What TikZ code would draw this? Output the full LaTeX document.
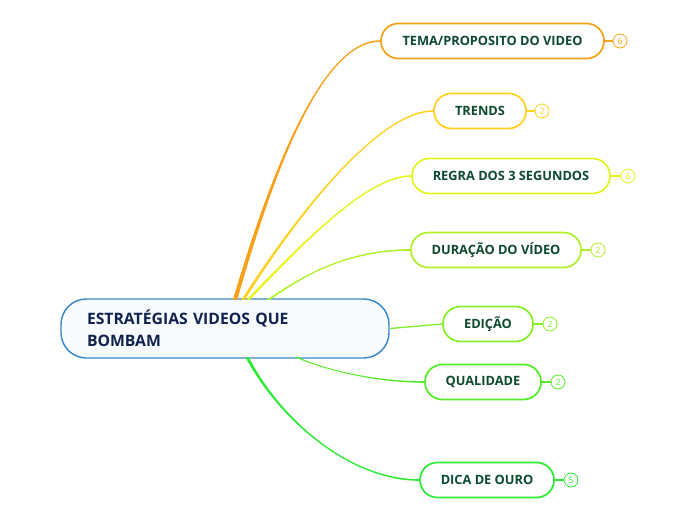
\documentclass[tikz,border=0pt]{standalone}
\usepackage{fontspec}
\setmainfont{Open Sans}
\usetikzlibrary{calc}
\definecolor{cA}{HTML}{F7A11A}
\definecolor{cB}{HTML}{FFD21F}
\definecolor{cC}{HTML}{E4F41C}
\definecolor{cD}{HTML}{B0F02A}
\definecolor{cE}{HTML}{85EE2A}
\definecolor{cF}{HTML}{55EB28}
\definecolor{cG}{HTML}{30EA38}
\definecolor{txtG}{HTML}{0D4A30}
\definecolor{txtB}{HTML}{10234F}
\definecolor{bordB}{HTML}{3A88C8}
\definecolor{fillB}{HTML}{F8FBFE}
% #1 colour, #2 start, #3 ctrl1, #4 ctrl2, #5 end, #6 start half-width, #7 signed end half-width
\newcommand\conn[7]{%
  \fill[#1] ($#2+(-#6,0)$) .. controls ($#3+(-#6*0.7,0)$) and ($#4+(0,-#7)$) .. ($#5+(0,-#7)$)
    -- ($#5+(0,#7)$) .. controls ($#4+(0,#7)$) and ($#3+(#6*0.7,0)$) .. ($#2+(#6,0)$) -- cycle;}
\begin{document}
\begin{tikzpicture}[x=0.75pt,y=-0.75pt,
  child/.style={draw=#1,line width=1.3pt,fill=white,rounded corners=13pt,
    minimum height=26.25pt,inner sep=0pt,text=txtG,font=\fontsize{9.6}{11}\selectfont\bfseries},
  cnt/.style={draw=#1,line width=0.6pt,circle,minimum size=10.5pt,inner sep=0pt,
    text=#1,font=\fontsize{6.5}{7}\selectfont,fill=white},
  stub/.style={draw=#1,line width=0.8pt}]
\useasboundingbox (0,0) rectangle (696,520);
% central node
\node[draw=bordB,line width=1.1pt,fill=fillB,rounded corners=19pt,
  minimum width=246pt,minimum height=44.25pt,inner xsep=19.5pt,text width=207pt,
  align=left,text=txtB,font=\fontsize{11.8}{16.5}\selectfont\bfseries] (c) at (225,328.5)
  {ESTRATÉGIAS VIDEOS QUE\\BOMBAM};
% children
\node[child=cA,minimum width=167.25pt] (t1) at (492.5,41) {TEMA/PROPOSITO DO VIDEO};
\node[child=cB,minimum width=69pt] (t2) at (480,111) {TRENDS};
\node[child=cC,minimum width=148.5pt] (t3) at (511,176) {REGRA DOS 3 SEGUNDOS};
\node[child=cD,minimum width=127.5pt] (t4) at (496,250) {DURAÇÃO DO VÍDEO};
\node[child=cE,minimum width=67.5pt] (t5) at (488,324) {EDIÇÃO};
\node[child=cF,minimum width=87pt] (t6) at (483,382) {QUALIDADE};
\node[child=cG,minimum width=100.5pt] (t7) at (487,480) {DICA DE OURO};
% counters
\node[cnt=cA] (n1) at (620,41) {6};
\node[cnt=cB] (n2) at (542,111) {2};
\node[cnt=cC] (n3) at (628,176) {6};
\node[cnt=cD] (n4) at (598,250) {2};
\node[cnt=cE] (n5) at (550,324) {2};
\node[cnt=cF] (n6) at (558,382) {2};
\node[cnt=cG] (n7) at (571,480) {5};
\draw[stub=cA] (t1.east) -- (n1.west);
\draw[stub=cB] (t2.east) -- (n2.west);
\draw[stub=cC] (t3.east) -- (n3.west);
\draw[stub=cD] (t4.east) -- (n4.west);
\draw[stub=cE] (t5.east) -- (n5.west);
\draw[stub=cF] (t6.east) -- (n6.west);
\draw[stub=cG] (t7.east) -- (n7.west);
% connector anchors
\coordinate (s1) at (235,300);
\coordinate (s2) at (243,300);
\coordinate (s3) at (248,300);
\coordinate (s4) at (268,300);
\coordinate (s6) at (296,357);
\coordinate (s7) at (247,357);
\coordinate (a1) at (270,180); \coordinate (b1) at (320,41);
\coordinate (a2) at (300,210); \coordinate (b2) at (380,111);
\coordinate (a3) at (310,235); \coordinate (b3) at (370,176);
\coordinate (a4) at (295,282); \coordinate (b4) at (340,250);
\coordinate (a6) at (330,372); \coordinate (b6) at (380,382);
\coordinate (a7) at (280,420); \coordinate (b7) at (350,480);
\conn{cA}{(s1)}{(a1)}{(b1)}{(t1.west)}{2.2}{0.8}
\conn{cB}{(s2)}{(a2)}{(b2)}{(t2.west)}{1.7}{0.8}
\conn{cC}{(s3)}{(a3)}{(b3)}{(t3.west)}{1.7}{0.8}
\conn{cD}{(s4)}{(a4)}{(b4)}{(t4.west)}{1.7}{0.8}
\conn{cF}{(s6)}{(a6)}{(b6)}{(t6.west)}{1.7}{-0.8}
\conn{cG}{(s7)}{(a7)}{(b7)}{(t7.west)}{1.7}{-0.8}
\draw[cE,line width=1pt] (c.east) -- (t5.west);
\end{tikzpicture}
\end{document}
